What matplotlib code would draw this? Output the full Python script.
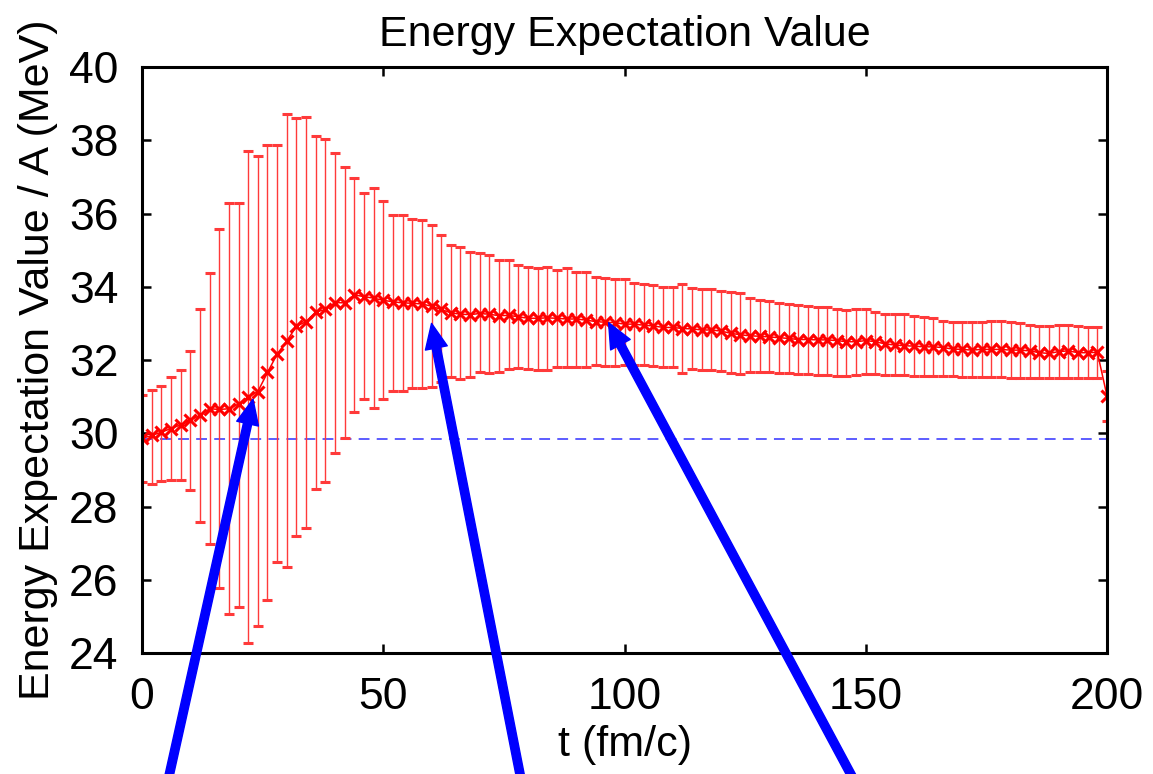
import numpy as np
import matplotlib
matplotlib.use("Agg")
import matplotlib.pyplot as plt

plt.rcParams["font.family"] = ["Liberation Sans", "DejaVu Sans"]

# time steps (fm/c)
t = np.arange(0, 201, 2)

# energy per nucleon (MeV)
energy = [
    29.86, 29.94, 30.03, 30.13, 30.23, 30.36, 30.49, 30.67, 30.65, 30.67,
    30.80, 30.99, 31.14, 31.66, 32.16, 32.52, 32.92, 33.05, 33.31, 33.38,
    33.57, 33.56, 33.78, 33.73, 33.69, 33.63, 33.59, 33.56, 33.55, 33.53,
    33.47, 33.38, 33.29, 33.25, 33.24, 33.27, 33.25, 33.21, 33.22, 33.18,
    33.14, 33.14, 33.15, 33.14, 33.12, 33.12, 33.09, 33.05, 33.03, 33.02,
    32.98, 32.98, 32.95, 32.93, 32.89, 32.89, 32.86, 32.85, 32.82, 32.82,
    32.79, 32.73, 32.69, 32.66, 32.65, 32.63, 32.61, 32.59, 32.56, 32.56,
    32.55, 32.55, 32.53, 32.50, 32.50, 32.53, 32.50, 32.44, 32.41, 32.39,
    32.38, 32.36, 32.36, 32.34, 32.30, 32.29, 32.27, 32.29, 32.29, 32.29,
    32.27, 32.27, 32.25, 32.20, 32.18, 32.23, 32.25, 32.20, 32.20, 32.21,
    31.02,
]

# upper / lower ends of the error bars
upper = [
    31.04, 31.19, 31.28, 31.53, 31.72, 32.24, 33.38, 34.38, 35.57, 36.28,
    36.28, 37.70, 37.56, 37.87, 37.87, 38.73, 38.60, 38.63, 38.11, 38.03,
    37.66, 37.27, 36.98, 36.57, 36.69, 36.35, 35.96, 35.96, 35.86, 35.82,
    35.69, 35.42, 35.15, 35.09, 34.96, 34.91, 34.87, 34.73, 34.74, 34.59,
    34.55, 34.50, 34.55, 34.46, 34.50, 34.41, 34.41, 34.27, 34.23, 34.21,
    34.21, 34.11, 34.07, 34.04, 34.00, 34.00, 34.07, 33.96, 33.93, 33.93,
    33.89, 33.85, 33.82, 33.68, 33.64, 33.62, 33.57, 33.53, 33.50, 33.47,
    33.44, 33.44, 33.38, 33.36, 33.40, 33.38, 33.32, 33.27, 33.25, 33.25,
    33.20, 33.18, 33.14, 33.07, 33.05, 33.05, 33.05, 33.05, 33.06, 33.06,
    33.04, 33.00, 32.95, 32.93, 32.93, 32.95, 32.95, 32.93, 32.89, 32.89,
    31.71,
]
lower = [
    28.66, 28.62, 28.69, 28.72, 28.72, 28.45, 27.58, 26.97, 25.77, 25.07,
    25.27, 24.28, 24.73, 25.46, 26.48, 26.35, 27.20, 27.42, 28.48, 28.66,
    29.45, 29.86, 30.57, 30.93, 30.70, 30.93, 31.16, 31.16, 31.23, 31.23,
    31.27, 31.41, 31.55, 31.48, 31.55, 31.68, 31.65, 31.68, 31.75, 31.77,
    31.76, 31.73, 31.73, 31.82, 31.82, 31.82, 31.80, 31.86, 31.84, 31.84,
    31.86, 31.86, 31.86, 31.84, 31.81, 31.80, 31.65, 31.75, 31.73, 31.73,
    31.69, 31.65, 31.62, 31.67, 31.67, 31.67, 31.65, 31.64, 31.62, 31.62,
    31.60, 31.60, 31.56, 31.56, 31.60, 31.62, 31.62, 31.58, 31.58, 31.58,
    31.56, 31.56, 31.56, 31.56, 31.56, 31.54, 31.54, 31.54, 31.53, 31.53,
    31.50, 31.50, 31.50, 31.50, 31.50, 31.51, 31.51, 31.51, 31.51, 31.51,
    30.34,
]

ground_state = 29.85

# arrow tips (t, E) and where the tails leave the figure (figure fraction x)
arrow_tips = [(23.0, 30.93), (60.0, 33.0), (96.7, 33.02)]
arrow_tails_x = [0.144, 0.4536, 0.745]

energy = np.array(energy)
yerr = np.vstack([energy - np.array(lower), np.array(upper) - energy])

fig = plt.figure(figsize=(11.53, 7.74), dpi=100)
ax = fig.add_axes([0.1232, 0.1563, 0.8369, 0.7571])

ax.axhline(ground_state, color="#4f4fff", lw=1.3, ls=(0, (6, 4)))
ax.errorbar(t, energy, yerr=yerr, fmt="-x", color="red", ecolor="#ff3a3a",
            elinewidth=1.0, capsize=3.5, capthick=1.0, lw=1.1,
            markersize=9, markeredgewidth=2.2)

ax.set_xlim(0, 200)
ax.set_ylim(24, 40)
ax.set_xticks([0, 50, 100, 150, 200])
ax.set_yticks(np.arange(24, 41, 2))

ax.tick_params(direction="in", top=True, right=True, length=6.5, width=1.8,
               labelsize=32)
ax.tick_params(axis="x", pad=17)
ax.tick_params(axis="y", pad=17)
for sp in ax.spines.values():
    sp.set_linewidth(2.2)

ax.set_title("Energy Expectation Value", fontsize=31, pad=15)
ax.set_xlabel("t (fm/c)", fontsize=31, labelpad=5)
ax.set_ylabel("Energy Expectation Value / A (MeV)", fontsize=31, labelpad=8)

for (tx, ty), fx in zip(arrow_tips, arrow_tails_x):
    ax.annotate("", xy=(tx, ty), xycoords="data",
                xytext=(fx, -0.02), textcoords="figure fraction",
                arrowprops=dict(facecolor="blue", edgecolor="blue",
                                width=6, headwidth=16, headlength=18,
                                shrink=0),
                annotation_clip=False)

fig.savefig("out.png", dpi=100)
